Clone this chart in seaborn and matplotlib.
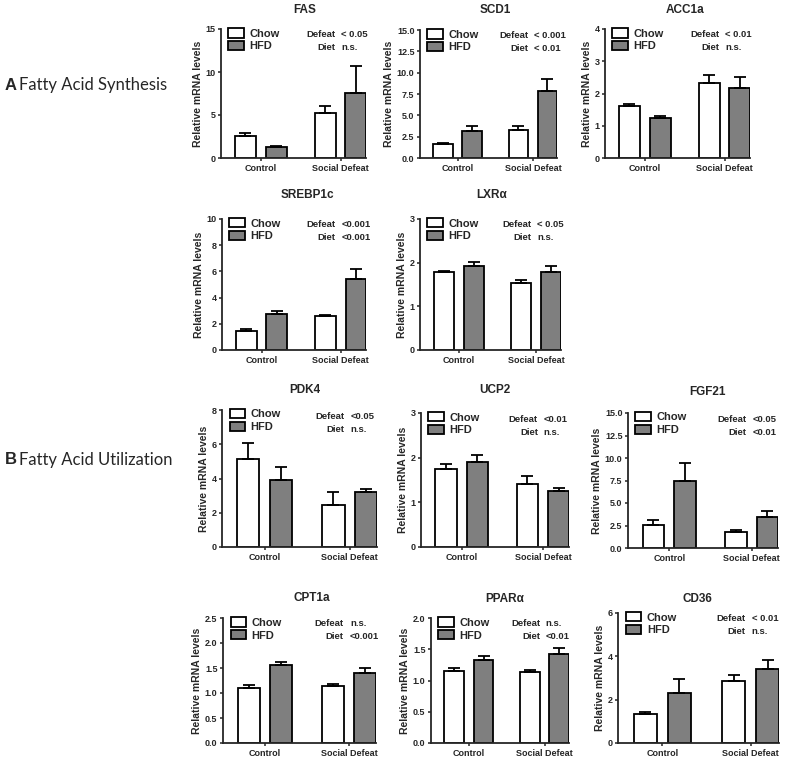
import numpy as np
import pandas as pd
import seaborn as sns
from matplotlib import pyplot as plt
from matplotlib.patches import Patch

# values (mean, upper error)
genes = ['FAS', 'SCD1', 'ACC1a', 'SREBP1c', 'LXRα',
         'PDK4', 'UCP2', 'FGF21', 'CPT1a', 'PPARα', 'CD36']
conditions = ['Control', 'Social Defeat']
diets = ['Chow', 'HFD']

chow_ctrl = [2.6, 1.6, 1.6, 1.45, 1.78, 5.15, 1.75, 2.6, 1.1, 1.15, 1.35]
chow_ctrl_err = [0.3, 0.15, 0.06, 0.12, 0.03, 0.95, 0.1, 0.55, 0.07, 0.05, 0.08]
hfd_ctrl = [1.3, 3.2, 1.23, 2.75, 1.92, 3.9, 1.9, 7.5, 1.57, 1.33, 2.3]
hfd_ctrl_err = [0.15, 0.6, 0.08, 0.2, 0.1, 0.75, 0.17, 2.0, 0.06, 0.07, 0.65]
chow_sd = [5.2, 3.3, 2.32, 2.6, 1.54, 2.45, 1.42, 1.8, 1.15, 1.14, 2.85]
chow_sd_err = [0.8, 0.5, 0.25, 0.08, 0.07, 0.75, 0.18, 0.2, 0.03, 0.03, 0.3]
hfd_sd = [7.6, 7.8, 2.18, 5.45, 1.78, 3.2, 1.26, 3.4, 1.4, 1.43, 3.4]
hfd_sd_err = [3.1, 1.4, 0.32, 0.75, 0.14, 0.2, 0.06, 0.75, 0.1, 0.09, 0.45]

defeat_p = ['< 0.05', '< 0.001', '< 0.01', '<0.001', '< 0.05',
            '<0.05', '<0.01', '<0.05', 'n.s.', 'n.s.', '< 0.01']
diet_p = ['n.s.', '< 0.01', 'n.s.', '<0.001', 'n.s.',
          'n.s.', 'n.s.', '<0.01', '<0.001', '<0.01', 'n.s.']

y_max = [15, 15, 4, 10, 3, 8, 3, 15, 2.5, 2.0, 6]
y_step = [5, 2.5, 1, 2, 1, 2, 1, 2.5, 0.5, 0.5, 2]
tick_fmt = ['%d', '%.1f', '%d', '%d', '%d', '%d', '%d', '%.1f', '%.1f', '%.1f', '%d']

# axes boxes in pixels: left, top, right, bottom
boxes = [(221, 29, 366, 158), (420, 30, 557, 158), (605, 29, 750, 158),
         (222, 219, 366, 350), (420, 219, 561, 350),
         (222, 410, 377, 547), (421, 413, 569, 547), (628, 413, 778, 548),
         (223, 618, 376, 743), (431, 618, 569, 743), (618, 613, 779, 743)]
title_pos = [(305, 10), (495, 10), (685, 10), (307, 195), (492, 195),
             (305, 390), (495, 390), (707, 392), (312, 598), (505, 599), (697, 599)]

W, H = 797, 758
sns.set_style('ticks')
plt.rcParams['font.family'] = ['Liberation Sans', 'DejaVu Sans']
plt.rcParams['font.weight'] = 'bold'

fig = plt.figure(figsize=(W / 100, H / 100), dpi=100)
colors = {'Chow': 'white', 'HFD': '#7f7f7f'}
lw = 1.3

for i, g in enumerate(genes):
    l, t, r, b = boxes[i]
    ax = fig.add_axes([l / W, 1 - b / H, (r - l) / W, (b - t) / H])
    df = pd.DataFrame({
        'condition': conditions * 2,
        'diet': ['Chow', 'Chow', 'HFD', 'HFD'],
        'value': [chow_ctrl[i], chow_sd[i], hfd_ctrl[i], hfd_sd[i]],
        'err': [chow_ctrl_err[i], chow_sd_err[i], hfd_ctrl_err[i], hfd_sd_err[i]],
    })
    sns.barplot(data=df, x='condition', y='value', hue='diet', order=conditions,
                hue_order=diets, palette=colors, edgecolor='black', linewidth=lw,
                width=0.77, gap=0.32, errorbar=None, legend=False, ax=ax)
    for k, d in enumerate(diets):
        sub = df[df['diet'] == d].set_index('condition').loc[conditions]
        xs = [p.get_x() + p.get_width() / 2 for p in ax.containers[k]]
        ax.errorbar(xs, sub['value'], yerr=[np.zeros(2), sub['err']], fmt='none',
                    ecolor='black', elinewidth=lw, capsize=4.5, capthick=lw, zorder=1)

    ax.set_xlim(-0.5, 1.32)
    ax.set_ylim(0, y_max[i])
    ax.set_yticks(np.arange(0, y_max[i] + 1e-9, y_step[i]))
    ax.set_yticklabels([tick_fmt[i] % v for v in ax.get_yticks()])
    ax.set_xlabel('')
    ax.set_ylabel('Relative mRNA levels', fontsize=7.5, fontweight='bold', labelpad=2)
    ax.tick_params(axis='both', labelsize=6.5, length=2.5, width=1.1, pad=1.5)
    for lab in ax.get_xticklabels() + ax.get_yticklabels():
        lab.set_fontweight('bold')
    sns.despine(ax=ax)
    for s in ['left', 'bottom']:
        ax.spines[s].set_linewidth(lw)

    handles = [Patch(facecolor=colors[d], edgecolor='black', linewidth=lw) for d in diets]
    ax.legend(handles, diets, loc='upper left', bbox_to_anchor=(0.02, 1.04),
              frameon=False, handlelength=1.4, handleheight=0.9,
              handletextpad=0.5, labelspacing=0.2, borderaxespad=0,
              prop={'weight': 'bold', 'size': 8})
    ax.text(0.79, 0.955, 'Defeat', transform=ax.transAxes, ha='right', va='center',
            fontsize=6.8, fontweight='bold')
    ax.text(0.83, 0.955, defeat_p[i], transform=ax.transAxes, ha='left', va='center',
            fontsize=6.8, fontweight='bold')
    ax.text(0.79, 0.855, 'Diet', transform=ax.transAxes, ha='right', va='center',
            fontsize=6.8, fontweight='bold')
    ax.text(0.83, 0.855, diet_p[i], transform=ax.transAxes, ha='left', va='center',
            fontsize=6.8, fontweight='bold')

    tx, ty = title_pos[i]
    fig.text(tx / W, 1 - ty / H, g, ha='center', va='center', fontsize=8.5, fontweight='bold')

fig.text(5 / W, 1 - 85 / H, 'A', ha='left', va='center', fontsize=12, fontweight='bold')
fig.text(19 / W, 1 - 85 / H, 'Fatty Acid Synthesis', ha='left', va='center',
         fontsize=12, fontweight='normal', family='Lato')
fig.text(5 / W, 1 - 460 / H, 'B', ha='left', va='center', fontsize=12, fontweight='bold')
fig.text(19 / W, 1 - 460 / H, 'Fatty Acid Utilization', ha='left', va='center',
         fontsize=12, fontweight='normal', family='Lato')

fig.savefig('out.png', dpi=100)
